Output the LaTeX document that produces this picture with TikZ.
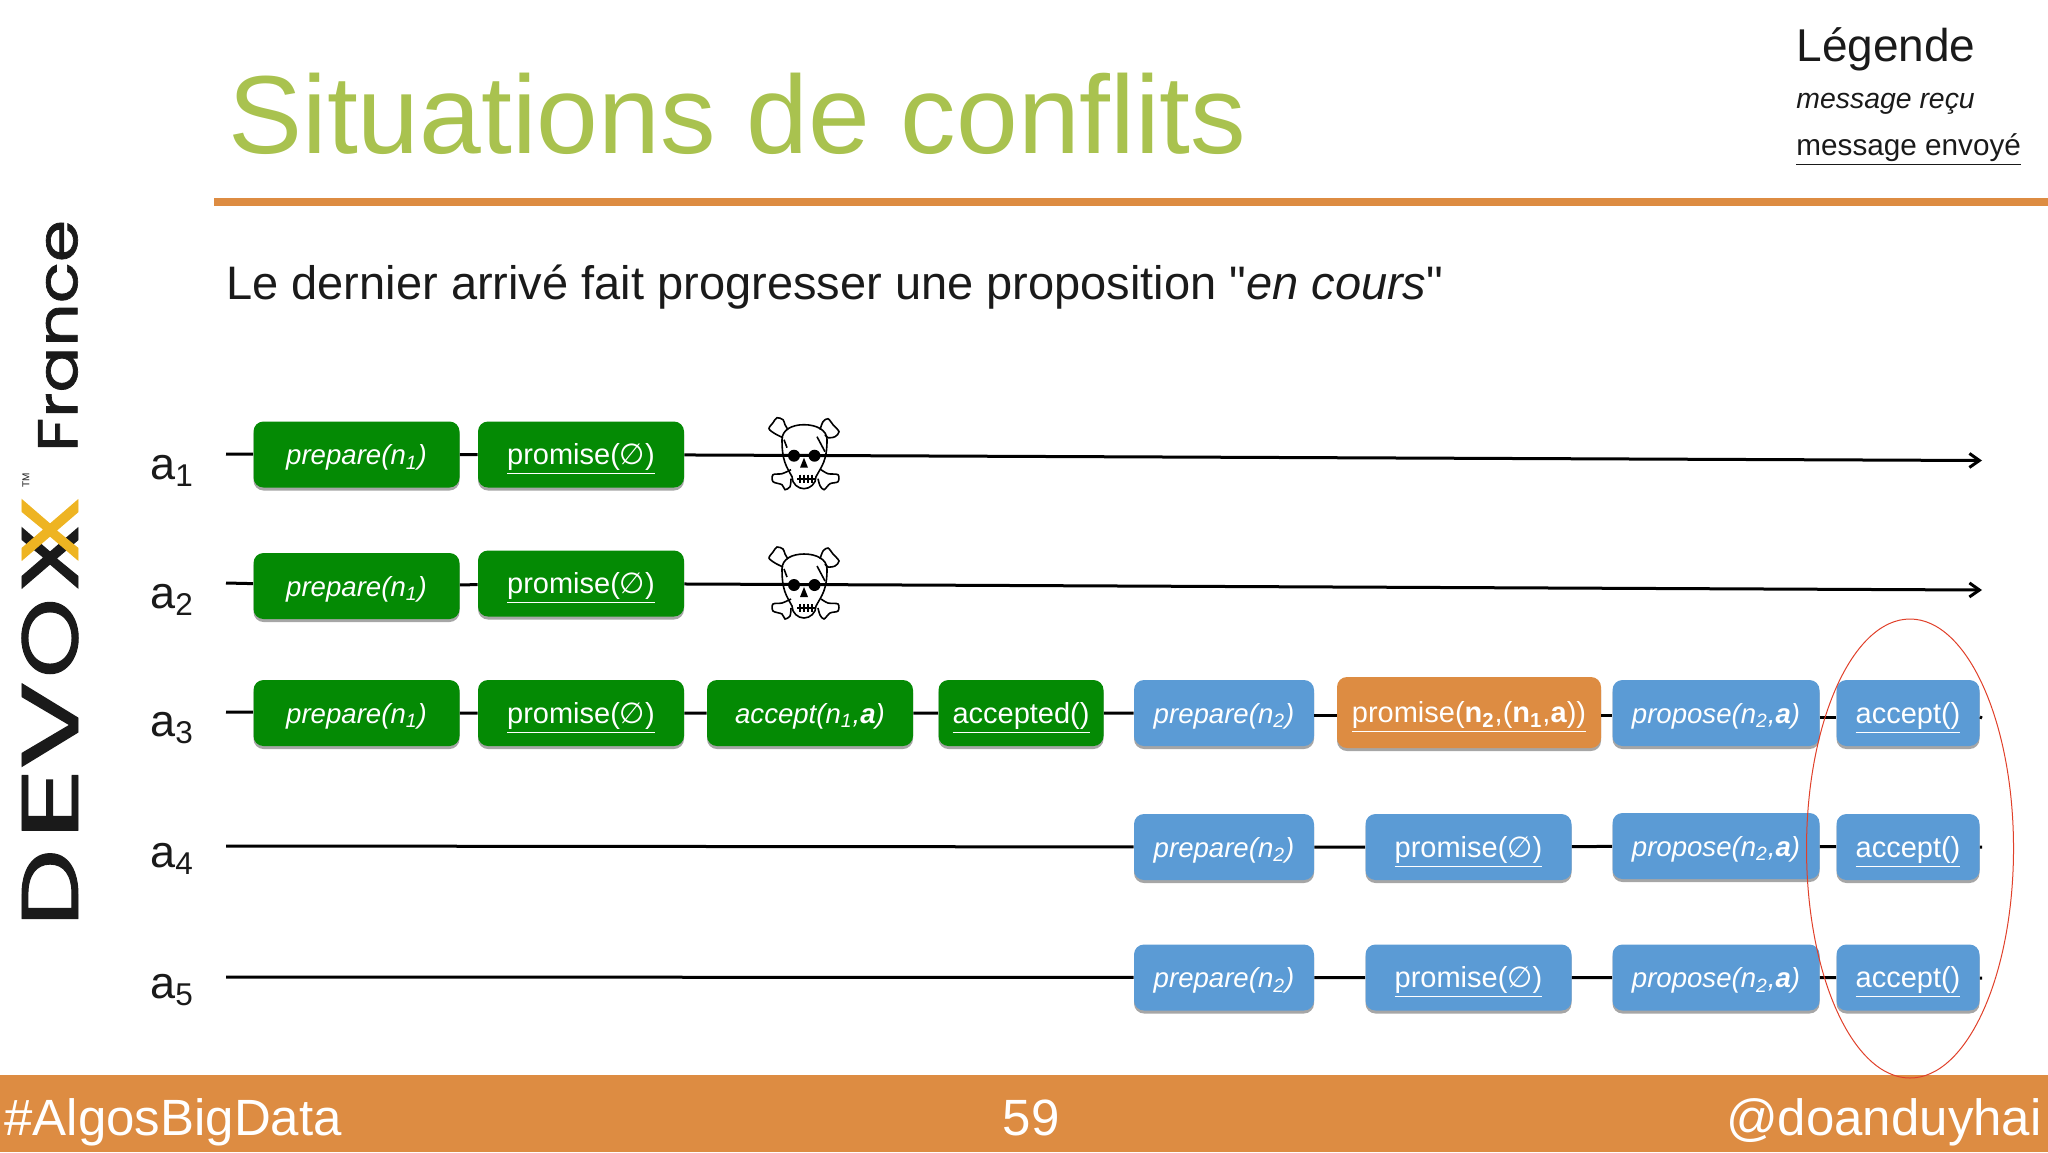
\documentclass[tikz,border=0pt]{standalone}
\usepackage{fontspec}
\setmainfont{Liberation Sans}
\newfontfamily\plainfont{Liberation Sans}
\newfontfamily\logofont[FakeBold=1.2]{Poppins}
\newfontfamily\symbfont{DejaVu Sans}
\usetikzlibrary{arrows.meta,shapes.geometric,shadows}

\definecolor{slideorange}{HTML}{DD8C42}
\definecolor{slidegreen}{HTML}{A9C24F}
\definecolor{msggreen}{HTML}{048A04}
\definecolor{msgblue}{HTML}{5B9BD5}
\definecolor{logoyellow}{HTML}{EEB422}
\definecolor{darktext}{HTML}{1A1A1A}
\definecolor{focusred}{HTML}{E0402A}

\newcommand{\recu}[1]{{\fontsize{13.8}{16}\selectfont\textit{#1}}}
\newcommand{\envoi}[1]{\underline{#1}}
\newcommand{\vide}{{\symbfont ∅}}

\tikzset{
  msg/.style={rounded corners=5pt, inner sep=0pt, minimum height=33pt, text=white,
    text height=14pt, text depth=3.6pt,
    font=\fontsize{14.5}{16}\selectfont,
    drop shadow={shadow xshift=0pt, shadow yshift=-1.5pt, fill=black, opacity=.35}},
  lifeline/.style={line width=1.5pt, black},
  vivant/.style={lifeline, -{Straight Barb[length=5pt,width=7pt]}},
  acteur/.style={anchor=base west, inner sep=0pt, text=darktext, font=\fontsize{22.5}{26}\selectfont},
  legende/.style={anchor=base west, inner sep=0pt, text=darktext},
  pied/.style={inner sep=0pt, anchor=base, text=white, font=\fontsize{25.5}{30}\selectfont},
  logo/.style={inner sep=0pt, rotate=90, text=darktext}
}

\begin{document}
\begin{tikzpicture}[x=0.5pt, y=-0.5pt]
\useasboundingbox (0,0) rectangle (2048,1152);

% Titre et legende
\node[legende, text=slidegreen, font=\fontsize{55.5}{60}\selectfont] (titre) at (228,153) {Situations de conflits};
\fill[slideorange] (214,198) rectangle (2048,206);
\node[legende, font=\fontsize{23}{26}\selectfont] (legende) at (1796,61) {Légende};
\node[legende, font=\fontsize{14.2}{16}\selectfont] (recu) at (1796,108) {\textit{message reçu}};
\node[legende, font=\fontsize{14.85}{16}\selectfont] (envoye) at (1796,155) {\envoi{message envoyé}};
\node[legende, font=\fontsize{23.5}{26}\selectfont] (soustitre) at (226,299)
  {Le dernier arrivé fait progresser une proposition {\plainfont "}\textit{en cours}{\plainfont "}};

% Logo
\foreach \l/\y/\w in {D/888/39,E/804/37,V/725/44,O/638/40,X/558/35} {
  \node[logo] (logo\l) at (50,\y) {\resizebox{\w pt}{28pt}{\logofont \l}};
}
\node[logo, text=logoyellow] (xjaune) at (50,530) {\resizebox{35pt}{28pt}{\logofont X}};
\node[logo, font=\fontsize{5}{6}\selectfont] (tm) at (26,480) {TM};
\node[logo] (france) at (58,336) {\resizebox{116pt}{19.5pt}{\logofont France}};

% Acteurs
\foreach \i/\y in {1/479,2/608,3/736,4/867,5/998} {
  \node[acteur] (a\i) at (150,\y) {a\textsubscript{\i}};
}

% Extremites des lignes de vie
\coordinate (s1) at (226,454);
\coordinate (s2) at (226,583);
\coordinate (s3) at (226,712);
\coordinate (s4) at (226,846);
\coordinate (s5) at (226,977);
\coordinate (e1) at (1982,460.5);
\coordinate (e2) at (1982,590);
\coordinate (e3) at (1982,718);
\coordinate (e4) at (1982,847);
\coordinate (e5) at (1982,978);

% Messages
\foreach \name/\col/\x/\y/\w/\txt in {
  pa1/msggreen/356.5/454.5/103/{\recu{prepare(n\textsubscript{1})}},
  qa1/msggreen/581/454.5/103/{\envoi{promise(\vide)}},
  pa2/msggreen/356.5/586/103/{\recu{prepare(n\textsubscript{1})}},
  qa2/msggreen/581/583.5/103/{\envoi{promise(\vide)}},
  pa3/msggreen/356.5/713/103/{\recu{prepare(n\textsubscript{1})}},
  qa3/msggreen/581/713/103/{\envoi{promise(\vide)}},
  ra3/msggreen/810/713/103/{\recu{accept(n\textsubscript{1},\textbf{a})}},
  ta3/msggreen/1021/713/82.5/{\envoi{accepted()}},
  ub3/msgblue/1224/713/90/{\recu{prepare(n\textsubscript{2})}},
  wb4/msgblue/1224/847/90/{\recu{prepare(n\textsubscript{2})}},
  wb5/msgblue/1224/977.5/90/{\recu{prepare(n\textsubscript{2})}},
  xb4/msgblue/1468.5/847/103/{\envoi{promise(\vide)}},
  xb5/msgblue/1468.5/977.5/103/{\envoi{promise(\vide)}},
  yb3/msgblue/1716/713/103.5/{\recu{propose(n\textsubscript{2},\textbf{a})}},
  yb4/msgblue/1716/846/103.5/{\recu{propose(n\textsubscript{2},\textbf{a})}},
  yb5/msgblue/1716/977.5/103.5/{\recu{propose(n\textsubscript{2},\textbf{a})}},
  zb3/msgblue/1908/713/71.5/{\envoi{accept()}},
  zb4/msgblue/1908/847/71.5/{\envoi{accept()}},
  zb5/msgblue/1908/977.5/71.5/{\envoi{accept()}}
} {
  \node[msg, fill=\col, minimum width=\w pt] (\name) at (\x,\y) {\txt};
}
\node[msg, fill=slideorange, minimum width=132pt, minimum height=35.5pt] (oa3) at (1469,712.5)
  {\envoi{promise(\textbf{n\textsubscript{2}},(\textbf{n\textsubscript{1}},\textbf{a}))}};

% Lignes de vie
\draw[vivant] (s1) -- (pa1) -- (qa1) -- (e1);
\draw[vivant] (s2) -- (pa2) -- (qa2) -- (e2);
\draw[lifeline] (s3) -- (pa3) -- (qa3) -- (ra3) -- (ta3) -- (ub3);
\draw[lifeline] ([yshift=-1pt]ub3.east) -- ([yshift=-1pt]ub3.east -| oa3.west);
\draw[lifeline] ([yshift=-1.5pt]oa3.east) -- ([yshift=-1.5pt]oa3.east -| yb3.west);
\draw[lifeline] ([yshift=-2pt]yb3.east) -- ([yshift=-2pt]yb3.east -| zb3.west);
\draw[lifeline] ([yshift=-2pt]zb3.east) -- (e3);
\draw[lifeline] (s4) -- (wb4) -- (xb4) -- (yb4) -- (zb4) -- (e4);
\draw[lifeline] (s5) -- (wb5) -- (xb5) -- (yb5) -- (zb5) -- (e5);

% Tetes de mort
\foreach \y in {455.7,585} {
  \begin{scope}[shift={(804,\y)}, line width=.8pt, black]
    \draw (-12,21) .. controls (-18,10) and (-22,5) .. (-22,-16)
      .. controls (-22,-26) and (-12,-31) .. (0,-31)
      .. controls (12,-31) and (23,-26) .. (23,-16)
      .. controls (23,5) and (18,10) .. (12,21)
      .. controls (12,28) and (6,33) .. (0,33)
      .. controls (-6,33) and (-12,28) .. (-12,21) -- cycle;
    \draw plot[smooth] coordinates {(-21,-18) (-29,-22) (-35,-27) (-31,-33) (-27,-38) (-21,-36) (-19,-31) (-16,-26)};
    \draw plot[smooth] coordinates {(16,-26) (19,-34) (24,-37) (29,-31) (35,-24) (31,-19) (24,-18) (21,-21)};
    \draw plot[smooth] coordinates {(-13,14) (-22,18) (-31,19) (-31,26) (-22,29) (-19,34) (-14,31) (-13,23)};
    \draw plot[smooth] coordinates {(17,14) (24,18) (34,19) (34,26) (26,28) (20,34) (16,30) (14,23)};
    \draw (-20,-16) -- (-17,-8) (13,-19) -- (21,-4);
    \fill (-10,0) circle (6) (10.5,0) circle (6);
    \fill (0,2) -- (-4,12) -- (4,12) -- cycle;
    \draw (-7,23) -- (11,23);
    \foreach \d in {-4,0,4,8} { \draw (\d,19) -- (\d,27); }
  \end{scope}
}

% Pied de page
\fill[slideorange] (0,1075) rectangle (2048,1152);
\node[pied, anchor=base west] (tag) at (4,1135) {\#AlgosBigData};
\node[pied] (page) at (1031,1135) {59};
\node[pied, anchor=base east] (compte) at (2042,1135) {@doanduyhai};

% Ellipse
\node[ellipse, draw=focusred, line width=.5pt, minimum width=103.5pt, minimum height=229.5pt, inner sep=0pt] (focus) at (1910,848.5) {};
\end{tikzpicture}
\end{document}
